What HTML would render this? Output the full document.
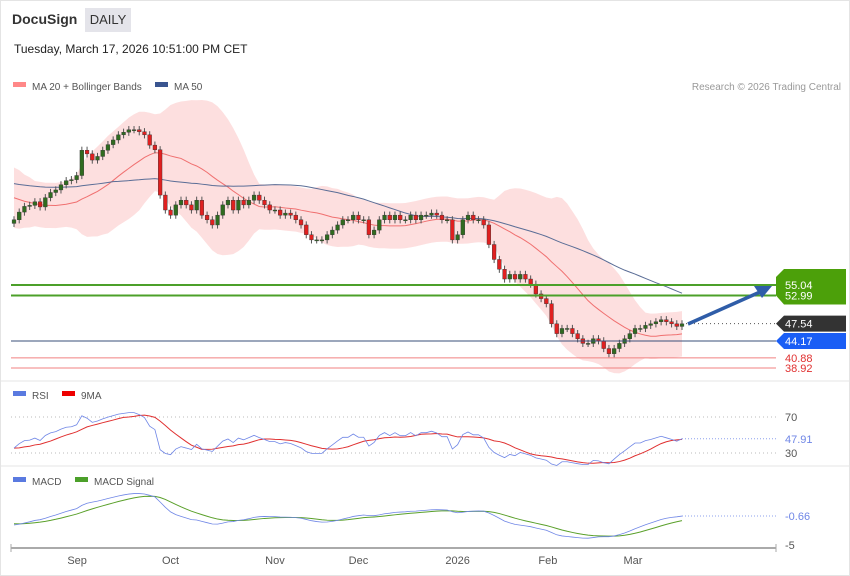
<!DOCTYPE html>
<html><head><meta charset="utf-8"><style>
body{margin:0;background:#fff;font-family:"Liberation Sans",sans-serif;}
#wrap{position:relative;width:848px;height:574px;border:1px solid #e4e4e4;overflow:hidden;}
.t{position:absolute;white-space:nowrap;}
</style></head><body>
<div id="wrap">
<div class="t" style="left:11px;top:10px;font-size:14px;font-weight:bold;color:#333">DocuSign</div>
<div class="t" style="left:84px;top:7px;width:46px;height:24px;background:#e4e4ea;font-size:13px;line-height:24px;text-align:center;color:#333">DAILY</div>
<div class="t" style="left:13px;top:41px;font-size:12px;color:#222">Tuesday, March 17, 2026 10:51:00 PM CET</div>
<svg id="svg" width="850" height="576" style="position:absolute;left:-1px;top:-1px"></svg>
</div>
<script>
const priorCloses=[82,81,82,80,81,79,80,78,79,77,78,76,77,75,76,74,75,73,74,72,73,71,72,70,71,69,70,68,69,67];
const closes=[67.7,69.2,70.3,70.5,71.2,70.2,72.0,73.0,73.5,74.5,75.3,75.5,76.3,81.2,80.5,79.3,80.0,81.2,82.3,83.2,84.2,84.7,85.2,85.2,84.8,84.2,82.2,81.3,72.5,69.6,68.6,70.6,71.5,70.6,69.6,71.5,68.6,67.7,66.7,68.6,70.6,71.5,69.6,71.5,70.6,71.5,72.5,71.5,70.6,69.6,69.6,68.6,69.0,68.6,67.7,66.7,64.8,63.8,63.8,63.8,64.8,65.7,66.7,67.7,67.7,68.6,67.7,67.7,64.8,65.7,67.7,68.6,67.7,68.6,67.7,67.7,68.6,67.7,68.6,68.6,69.0,68.6,67.7,67.7,63.8,64.8,67.7,68.6,67.7,67.7,66.7,62.9,60.0,58.1,56.2,57.1,56.2,57.1,56.2,55.2,53.3,52.4,51.4,47.5,45.6,46.6,46.6,45.6,44.6,43.7,43.7,44.6,44.2,42.7,41.7,42.7,43.7,44.6,45.6,46.6,46.6,47.2,47.5,47.9,48.3,47.9,47.5,47.0,47.5];
const supports=[44.17,40.88,38.92];
const resistances=[55.04,52.99];
const lastPrice=47.54;
const monthLabels=["Sep","Oct","Nov","Dec","2026","Feb","Mar"];
const monthIdx=[12.1,30,50,66,85,102.3,118.6];
const rsiTicks=[70,30];

const NS="http://www.w3.org/2000/svg";
const svg=document.getElementById('svg');
function el(t,a,p){const e=document.createElementNS(NS,t);for(const k in a)e.setAttribute(k,a[k]);(p||svg).appendChild(e);return e;}
const n=closes.length;
const P=priorCloses.length;
const full=priorCloses.concat(closes);
const X0=14,DX=668/(n-1);
const xs=i=>X0+i*DX;
const py=p=>285+(55.04-p)*5.15;
const ry=v=>453-(v-30)*0.9;
const my=v=>510-v*7;
function sma(arr,w,i){let s=0,c=0;for(let j=Math.max(0,i-w+1);j<=i;j++){s+=arr[j];c++;}return s/c;}
const ma20=[],up=[],lo=[],ma50=[];
for(let k=0;k<n;k++){const i=k+P;const m=sma(full,20,i);let v=0,c=0;for(let j=Math.max(0,i-19);j<=i;j++){v+=(full[j]-m)**2;c++;}const sd=Math.max(Math.sqrt(v/c),2.2);ma20.push(m);up.push(m+2*sd);lo.push(m-2*sd);ma50.push(sma(full,50,i));}
let d='M'+xs(0)+','+py(up[0]);for(let i=1;i<n;i++)d+='L'+xs(i)+','+py(up[i]);for(let i=n-1;i>=0;i--)d+='L'+xs(i)+','+py(lo[i]);
let b=el('path',{d:d+'Z',fill:'#fdd9d9',opacity:0.85});


function line(arr,f,col,w,name){let s='';arr.forEach((v,i)=>s+=(i?'L':'M')+xs(i)+','+f(v));const p=el('path',{d:s,fill:'none',stroke:col,'stroke-width':w});return p;}
line(ma20,py,'#f07070',1,'ma20-line');
line(ma50,py,'#5a6d96',1,'ma50-line');
for(let i=0;i<n;i++){const o=full[i+P-1],c=closes[i];const hi=Math.max(o,c)+0.7,lw=Math.min(o,c)-0.7;const col=c>=o?'#2f6b1f':'#e02020';
const g=el('g',{});
el('line',{x1:xs(i),x2:xs(i),y1:py(hi),y2:py(lw),stroke:'#555','stroke-width':1},g);
el('rect',{x:xs(i)-1.9,y:Math.min(py(o),py(c)),width:3.8,height:Math.max(1,Math.abs(py(o)-py(c))),fill:col,stroke:'#333','stroke-width':0.4},g);}
function tag(y,txt,bg,fg,name){const g=el('g',{});
if(bg){el('path',{d:`M776,${y}L784,${y-8}H846V${y+8}H784Z`,fill:bg},g);}
const t=el('text',{x:785,y:y+4,'font-size':11,fill:fg},g);t.textContent=txt;}
resistances.forEach((v,i)=>{const l=el('line',{x1:11,x2:776,y1:py(v),y2:py(v),stroke:'#4ca02a','stroke-width':2});});
el('path',{d:`M776,${py(55.04)-8}L784,${py(55.04)-16}H846V${py(52.99)+9}H784L776,${py(52.99)}Z`,fill:'#4ca00a'});
resistances.forEach(v=>tag(py(v),v.toFixed(2),null,'#fff','resistance-label'));
const sl=el('line',{x1:11,x2:776,y1:py(supports[0]),y2:py(supports[0]),stroke:'#3a4f7a','stroke-width':1});

tag(py(supports[0]),supports[0].toFixed(2),'#1a5ef5','#fff','support-label');
supports.slice(1).forEach(v=>{const l=el('line',{x1:11,x2:776,y1:py(v),y2:py(v),stroke:'#f08080','stroke-width':1});tag(py(v),v.toFixed(2),null,'#e03030','support-label');});
el('line',{x1:xs(n-1)+4,x2:776,y1:py(lastPrice),y2:py(lastPrice),stroke:'#555','stroke-dasharray':'1,3'});
tag(py(lastPrice),lastPrice.toFixed(2),'#333','#fff','last-price-label');
const ar=el('path',{d:'M688,324L760,292',stroke:'#2f5da8','stroke-width':3.5,fill:'none'});
el('path',{d:'M772,286L754,286L762,298Z',fill:'#2f5da8'});
function leg(x,y,col,txt,name){const g=el('g',{});el('rect',{x:x,y:y-4,width:13,height:5,fill:col},g);const t=el('text',{x:x+19,y:y+4,'font-size':10,fill:'#555'},g);t.textContent=txt;}
leg(13,86,'#f88','MA 20 + Bollinger Bands','legend-ma20');leg(155,86,'#3a5590','MA 50','legend-ma50');
let t=el('text',{x:841,y:90,'font-size':10,fill:'#999','text-anchor':'end'});t.textContent='Research © 2026 Trading Central';
el('line',{x1:0,x2:850,y1:381,y2:381,stroke:'#e4e4e4'});el('line',{x1:0,x2:850,y1:466,y2:466,stroke:'#e4e4e4'});
leg(13,395,'#5a7ae0','RSI','legend-rsi');leg(62,395,'#e00','9MA','legend-rsi-ma');
leg(13,481,'#5a7ae0','MACD','legend-macd');leg(75,481,'#4ca02a','MACD Signal','legend-macd-signal');
rsiTicks.forEach(v=>{el('line',{x1:11,x2:776,y1:ry(v),y2:ry(v),stroke:'#bbb','stroke-dasharray':'1,3'});const tt=el('text',{x:785,y:ry(v)+4,'font-size':11,fill:'#555'});tt.textContent=v;});
const rsiF=[];let ag=0.6,al=0.6;
for(let i=0;i<full.length;i++){const ch=i?full[i]-full[i-1]:0;const g=Math.max(ch,0),l=Math.max(-ch,0);ag=(ag*13+g)/14;al=(al*13+l)/14;rsiF.push(100-100/(1+ag/(al||0.01)));}
const rsiMaF=rsiF.map((v,i)=>sma(rsiF,9,i));
const rsi=rsiF.slice(P),rsiMa=rsiMaF.slice(P);
line(rsiMa,ry,'#e03030',1,'rsi-ma-line');line(rsi,ry,'#6f86e6',0.8,'rsi-line');
const lr=rsi[n-1];
el('line',{x1:xs(n-1),x2:776,y1:ry(lr),y2:ry(lr),stroke:'#8ea0ee','stroke-dasharray':'1,2'});
t=el('text',{x:785,y:ry(lr)+4,'font-size':11,fill:'#6f86e6'});t.textContent='47.91';
function ema(arr,p){const k=2/(p+1);const o=[arr[0]];for(let i=1;i<arr.length;i++)o.push(arr[i]*k+o[i-1]*(1-k));return o;}
const e12=ema(full,12),e26=ema(full,26);const macdF=e12.map((v,i)=>(v-e26[i])*0.75);const sigF=ema(macdF,9);
const macd=macdF.slice(P),sig=sigF.slice(P);
line(sig,my,'#5aa02a',1,'macd-signal-line');line(macd,my,'#6f86e6',0.8,'macd-line');
el('line',{x1:xs(n-1),x2:776,y1:my(macd[n-1]),y2:my(macd[n-1]),stroke:'#8ea0ee','stroke-dasharray':'1,2'});
t=el('text',{x:785,y:my(macd[n-1])+4,'font-size':11,fill:'#6f86e6'});t.textContent='-0.66';
t=el('text',{x:785,y:my(-5)+4,'font-size':11,fill:'#555'});t.textContent='-5';
el('line',{x1:11,x2:776,y1:548,y2:548,stroke:'#aaa','stroke-width':2});
el('line',{x1:11,x2:11,y1:544,y2:552,stroke:'#aaa'});el('line',{x1:776,x2:776,y1:544,y2:552,stroke:'#aaa'});
monthLabels.forEach((m,i)=>{const tt=el('text',{x:xs(monthIdx[i]),y:564,'font-size':11,fill:'#555','text-anchor':'middle'});tt.textContent=m;});
</script>
</body></html>
